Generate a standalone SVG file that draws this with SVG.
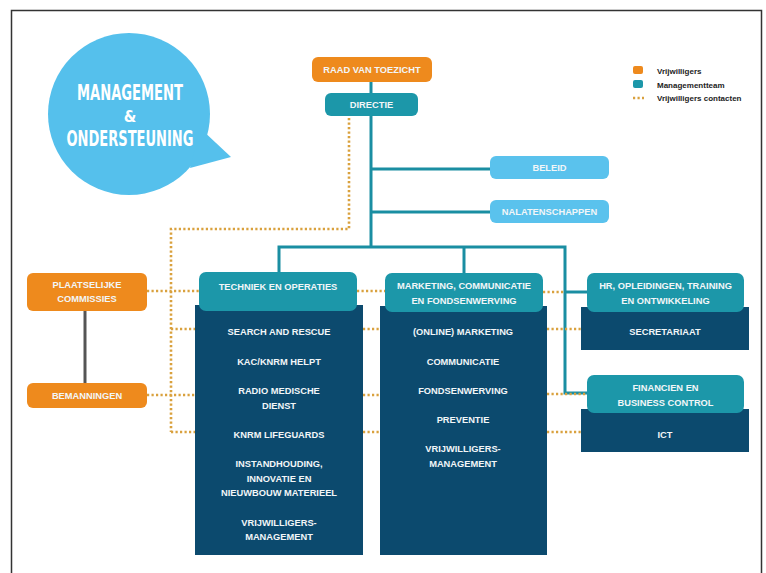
<svg xmlns="http://www.w3.org/2000/svg" width="766" height="573" viewBox="0 0 766 573">
<style>
.t{font-family:"Liberation Sans",Arial,sans-serif;font-weight:bold;font-size:9.3px;fill:#f2f6f8;text-anchor:middle;dominant-baseline:central}
.org{fill:#ee8a1d}
.teal{fill:#1c97a9}
.navy{fill:#0c4a6e}
.lb{fill:#5ac2ed}
.line{fill:none;stroke:#1a8ea2;stroke-width:3}
.dot{fill:none;stroke:#d9a13e;stroke-width:2.6;stroke-dasharray:2.2 2.3}
.big{font-family:"Liberation Sans Narrow","DejaVu Sans Condensed","Liberation Sans",sans-serif;font-weight:bold;fill:#ffffff;text-anchor:middle}
.leg{font-family:"Liberation Sans",Arial,sans-serif;font-weight:bold;font-size:8px;fill:#222}
</style>
<rect x="0" y="0" width="766" height="573" fill="#ffffff"/>
<rect x="11.5" y="10.5" width="750" height="620" fill="none" stroke="#333" stroke-width="1.5"/>

<g id="title">
<circle cx="129" cy="114" r="81" fill="#55c0ec"/>
<path d="M200 128 L231 157 L190 168 Z" fill="#55c0ec"/>
<text class="big" x="130" y="100" font-size="21" textLength="106" lengthAdjust="spacingAndGlyphs">MANAGEMENT</text>
<text class="big" x="130" y="122" font-size="16">&amp;</text>
<text class="big" x="130" y="146" font-size="21" textLength="127" lengthAdjust="spacingAndGlyphs">ONDERSTEUNING</text>
</g>

<g id="legend">
<rect x="633" y="66" width="10" height="8" rx="2" class="org"/>
<text class="leg" x="657" y="73.5">Vrijwilligers</text>
<rect x="633" y="80" width="10" height="8" rx="2" class="teal"/>
<text class="leg" x="657" y="87.5">Managementteam</text>
<path d="M633 98 H644" class="dot"/>
<text class="leg" x="657" y="101">Vrijwilligers contacten</text>
</g>

<g id="connectors">
<path class="line" d="M371 82 V247"/>
<path class="line" d="M371 169 H490"/>
<path class="line" d="M371 212 H490"/>
<path class="line" d="M279 272 V247 H565 V393 H587"/>
<path class="line" d="M464 247 V273"/>
<path class="line" d="M565 292 H587"/>
<path d="M85 311 V383" fill="none" stroke="#555" stroke-width="3"/>
<path class="dot" d="M349 118 V229 H171 V432"/>
<path class="dot" d="M147 291 H200"/>
<path class="dot" d="M171 329 H195"/>
<path class="dot" d="M147 395 H195"/>
<path class="dot" d="M171 432 H195"/>
<path class="dot" d="M357 291 H385"/>
<path class="dot" d="M363 329 H381"/>
<path class="dot" d="M363 395 H381"/>
<path class="dot" d="M363 432 H381"/>
<path class="dot" d="M543 292 H564"/>
<path class="dot" d="M547 329 H581"/>
<path class="dot" d="M547 394 H587"/>
<path class="dot" d="M547 432 H581"/>
</g>

<g id="raad">
<rect x="312" y="57" width="120" height="25" rx="6" class="org"/>
<text class="t" x="372" y="70">RAAD VAN TOEZICHT</text>
</g>
<g id="directie">
<rect x="325" y="93" width="93" height="23" rx="6" class="teal"/>
<text class="t" x="371.5" y="104.5">DIRECTIE</text>
</g>
<g id="beleid">
<rect x="490" y="156" width="119" height="23" rx="6" class="lb"/>
<text class="t" x="549.5" y="167.5">BELEID</text>
</g>
<g id="nalatenschappen">
<rect x="490" y="200" width="119" height="23" rx="6" class="lb"/>
<text class="t" x="549.5" y="211.5">NALATENSCHAPPEN</text>
</g>

<g id="plaatselijke">
<rect x="27" y="273" width="120" height="38" rx="6" class="org"/>
<text class="t" x="87" y="285">PLAATSELIJKE</text>
<text class="t" x="87" y="299">COMMISSIES</text>
</g>
<g id="bemanningen">
<rect x="27" y="383" width="120" height="25" rx="6" class="org"/>
<text class="t" x="87" y="395.5">BEMANNINGEN</text>
</g>

<g id="techniek">
<rect x="195" y="305" width="168" height="250" class="navy"/>
<rect x="199" y="272" width="158" height="39" rx="7" class="teal"/>
<text class="t" x="278" y="287">TECHNIEK EN OPERATIES</text>
<text class="t" x="279" y="332">SEARCH AND RESCUE</text>
<text class="t" x="279" y="362">KAC/KNRM HELPT</text>
<text class="t" x="279" y="391">RADIO MEDISCHE</text>
<text class="t" x="279" y="406">DIENST</text>
<text class="t" x="279" y="435">KNRM LIFEGUARDS</text>
<text class="t" x="279" y="464">INSTANDHOUDING,</text>
<text class="t" x="279" y="479">INNOVATIE EN</text>
<text class="t" x="279" y="493">NIEUWBOUW MATERIEEL</text>
<text class="t" x="279" y="523">VRIJWILLIGERS-</text>
<text class="t" x="279" y="537">MANAGEMENT</text>
</g>

<g id="marketing">
<rect x="380" y="306" width="167" height="249" class="navy"/>
<rect x="385" y="273" width="158" height="39" rx="7" class="teal"/>
<text class="t" x="464" y="286">MARKETING, COMMUNICATIE</text>
<text class="t" x="464" y="301">EN FONDSENWERVING</text>
<text class="t" x="463" y="332">(ONLINE) MARKETING</text>
<text class="t" x="463" y="362">COMMUNICATIE</text>
<text class="t" x="463" y="391">FONDSENWERVING</text>
<text class="t" x="463" y="420">PREVENTIE</text>
<text class="t" x="463" y="449">VRIJWILLIGERS-</text>
<text class="t" x="463" y="464">MANAGEMENT</text>
</g>

<g id="hr">
<rect x="581" y="307" width="168" height="43" class="navy"/>
<rect x="587" y="273" width="157" height="39" rx="7" class="teal"/>
<text class="t" x="665.5" y="286">HR, OPLEIDINGEN, TRAINING</text>
<text class="t" x="665.5" y="301">EN ONTWIKKELING</text>
<text class="t" x="665" y="332">SECRETARIAAT</text>
</g>

<g id="financien">
<rect x="581" y="409" width="168" height="43" class="navy"/>
<rect x="587" y="375" width="157" height="38" rx="7" class="teal"/>
<text class="t" x="665.5" y="388">FINANCIEN EN</text>
<text class="t" x="665.5" y="403">BUSINESS CONTROL</text>
<text class="t" x="665" y="435">ICT</text>
</g>
</svg>
